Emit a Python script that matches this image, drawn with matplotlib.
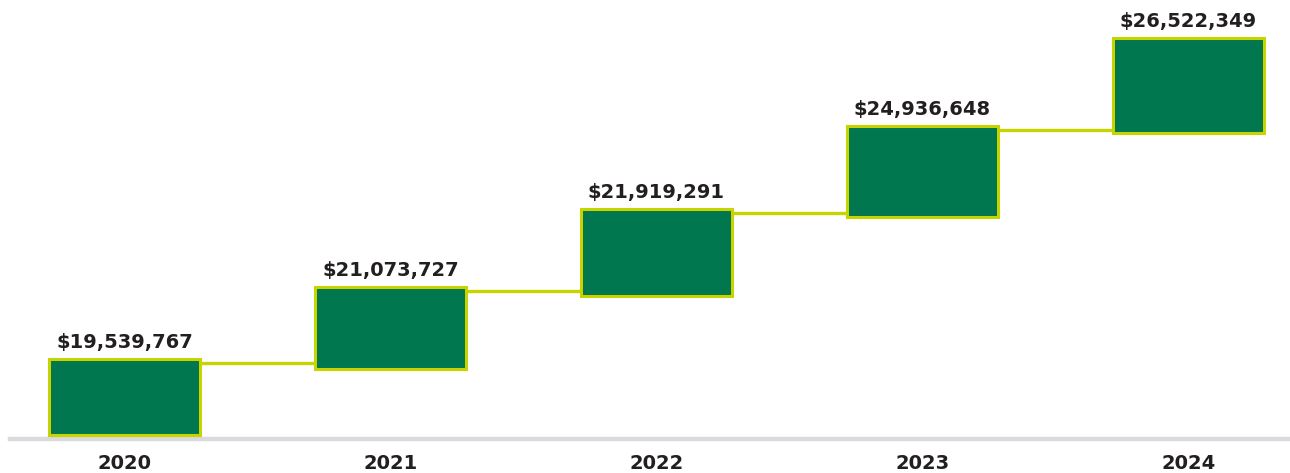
import matplotlib.pyplot as plt
import numpy as np
from matplotlib.patches import Rectangle

years = ["2020", "2021", "2022", "2023", "2024"]
values = [19539767, 21073727, 21919291, 24936648, 26522349]

GREEN = "#00774f"
LIME = "#c8d400"
TEXT = "#231f20"

fig = plt.figure(figsize=(12.9, 4.73), dpi=100)
ax = fig.add_axes([0, 0, 1, 1])
ax.set_xlim(-0.468, 4.382)
ax.set_ylim(-36, 437)
ax.axis("off")

# boxes step up by year rank (the picture's heights are not to scale)
idx = np.arange(len(years))
tops = 78 + 69.75 * idx + 2.625 * idx**2
bottoms = 2 + 63.5 * idx + 3.0 * idx**2
width = 0.568

# baseline band
ax.axhline(-2, xmin=10 / 1290, xmax=1, color="#d9d9de", lw=3.2, zorder=1)

# connectors between boxes
for i in idx[:-1]:
    ax.plot([i + width / 2, i + 1 - width / 2], [tops[i] - 4, tops[i] - 4],
            color=LIME, lw=2.4, solid_capstyle="butt", zorder=2)

for i, (yr, v) in enumerate(zip(years, values)):
    ax.add_patch(Rectangle((i - width / 2, bottoms[i]), width, tops[i] - bottoms[i],
                           facecolor=GREEN, edgecolor=LIME, lw=2.2, zorder=3))
    ax.text(i, tops[i] + 11, f"${v:,}", ha="center", va="baseline",
            fontsize=14, fontweight="bold", color=TEXT, zorder=4)
    ax.text(i, -32, yr, ha="center", va="baseline",
            fontsize=14, fontweight="bold", color=TEXT, zorder=4)

fig.savefig("out.png", dpi=100, facecolor="white")
